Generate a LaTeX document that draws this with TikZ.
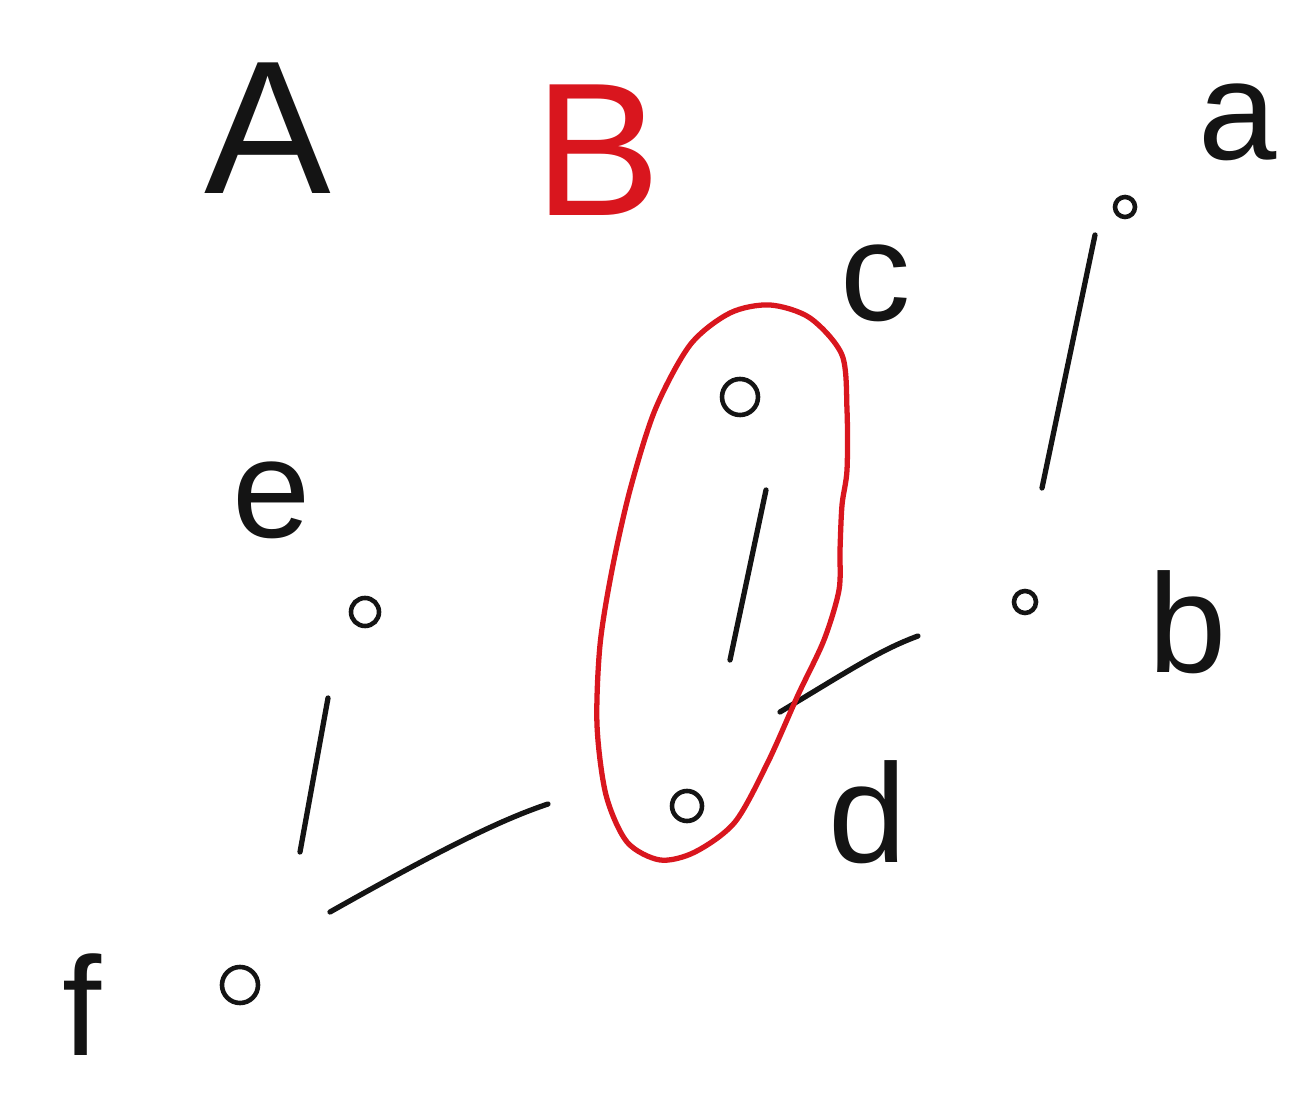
\documentclass[tikz,border=0pt]{standalone}
\usepackage{fontspec}
\setmainfont{Liberation Sans}
\definecolor{inkred}{HTML}{D9161E}
\definecolor{ink}{HTML}{141414}
\begin{document}
\begin{tikzpicture}[x=0.01cm,y=-0.01cm,
  stroke/.style={draw=ink,line width=1.5pt,line cap=round},
  vtx/.style={circle,draw=ink,line width=1.3pt,inner sep=0pt,minimum size=#1},
  vtx/.default=0.26cm,
  big/.style={font=\fontsize{54}{56}\selectfont},
  lbl/.style={font=\fontsize{40}{42}\selectfont,text=ink}]
\useasboundingbox (0,0) rectangle (1291,1101);
% titles
\node[big,text=ink] (tA) at (268,128) {A};
\node[big,text=inkred] (tB) at (598,150) {B};
% labels
\node[lbl] (la) at (1238,122) {a};
\node[lbl] (lc) at (876,283) {c};
\node[lbl] (le) at (272,500) {e};
\node[lbl] (lb) at (1188,622) {b};
\node[lbl] (ld) at (868,812) {d};
\node[lbl] (lf) at (82,1005) {f};
% vertices
\node[vtx=0.2cm] (va) at (1125,207) {};
\node[vtx=0.36cm] (vc) at (740,397) {};
\node[vtx=0.22cm] (vb) at (1025,602) {};
\node[vtx=0.28cm] (ve) at (365,612) {};
\node[vtx=0.3cm] (vd) at (687,806) {};
\node[vtx=0.36cm] (vf) at (240,985) {};
% edge end points
\coordinate (ab1) at (1095,235); \coordinate (ab2) at (1042,488);
\coordinate (cd1) at (766,490);  \coordinate (cd2) at (730,660);
\coordinate (bd1) at (918,636);  \coordinate (bd2) at (780,712);
\coordinate (ef1) at (328,698);  \coordinate (ef2) at (300,852);
\coordinate (df1) at (548,804);  \coordinate (df2) at (330,912);
\draw[stroke] (ab1) -- (ab2);
\draw[stroke] (cd1) -- (cd2);
\draw[stroke] (bd1) .. controls (880,650) and (850,670) .. (bd2);
\draw[stroke] (ef1) -- (ef2);
\draw[stroke] (df1) .. controls (500,820) and (440,850) .. (df2);
% red enclosure
\draw[draw=inkred,line width=1.5pt] plot[smooth cycle,tension=0.5] coordinates {
 (770,305) (810,318) (842,355) (847,410) (847,470) (842,505) (840,550) (839,590)
 (824,640) (798,695) (768,762) (735,822) (695,852) (660,860) (627,842)
 (606,795) (597,725) (600,645) (612,570) (630,490) (655,410) (690,345) (730,313)};
\end{tikzpicture}
\end{document}
